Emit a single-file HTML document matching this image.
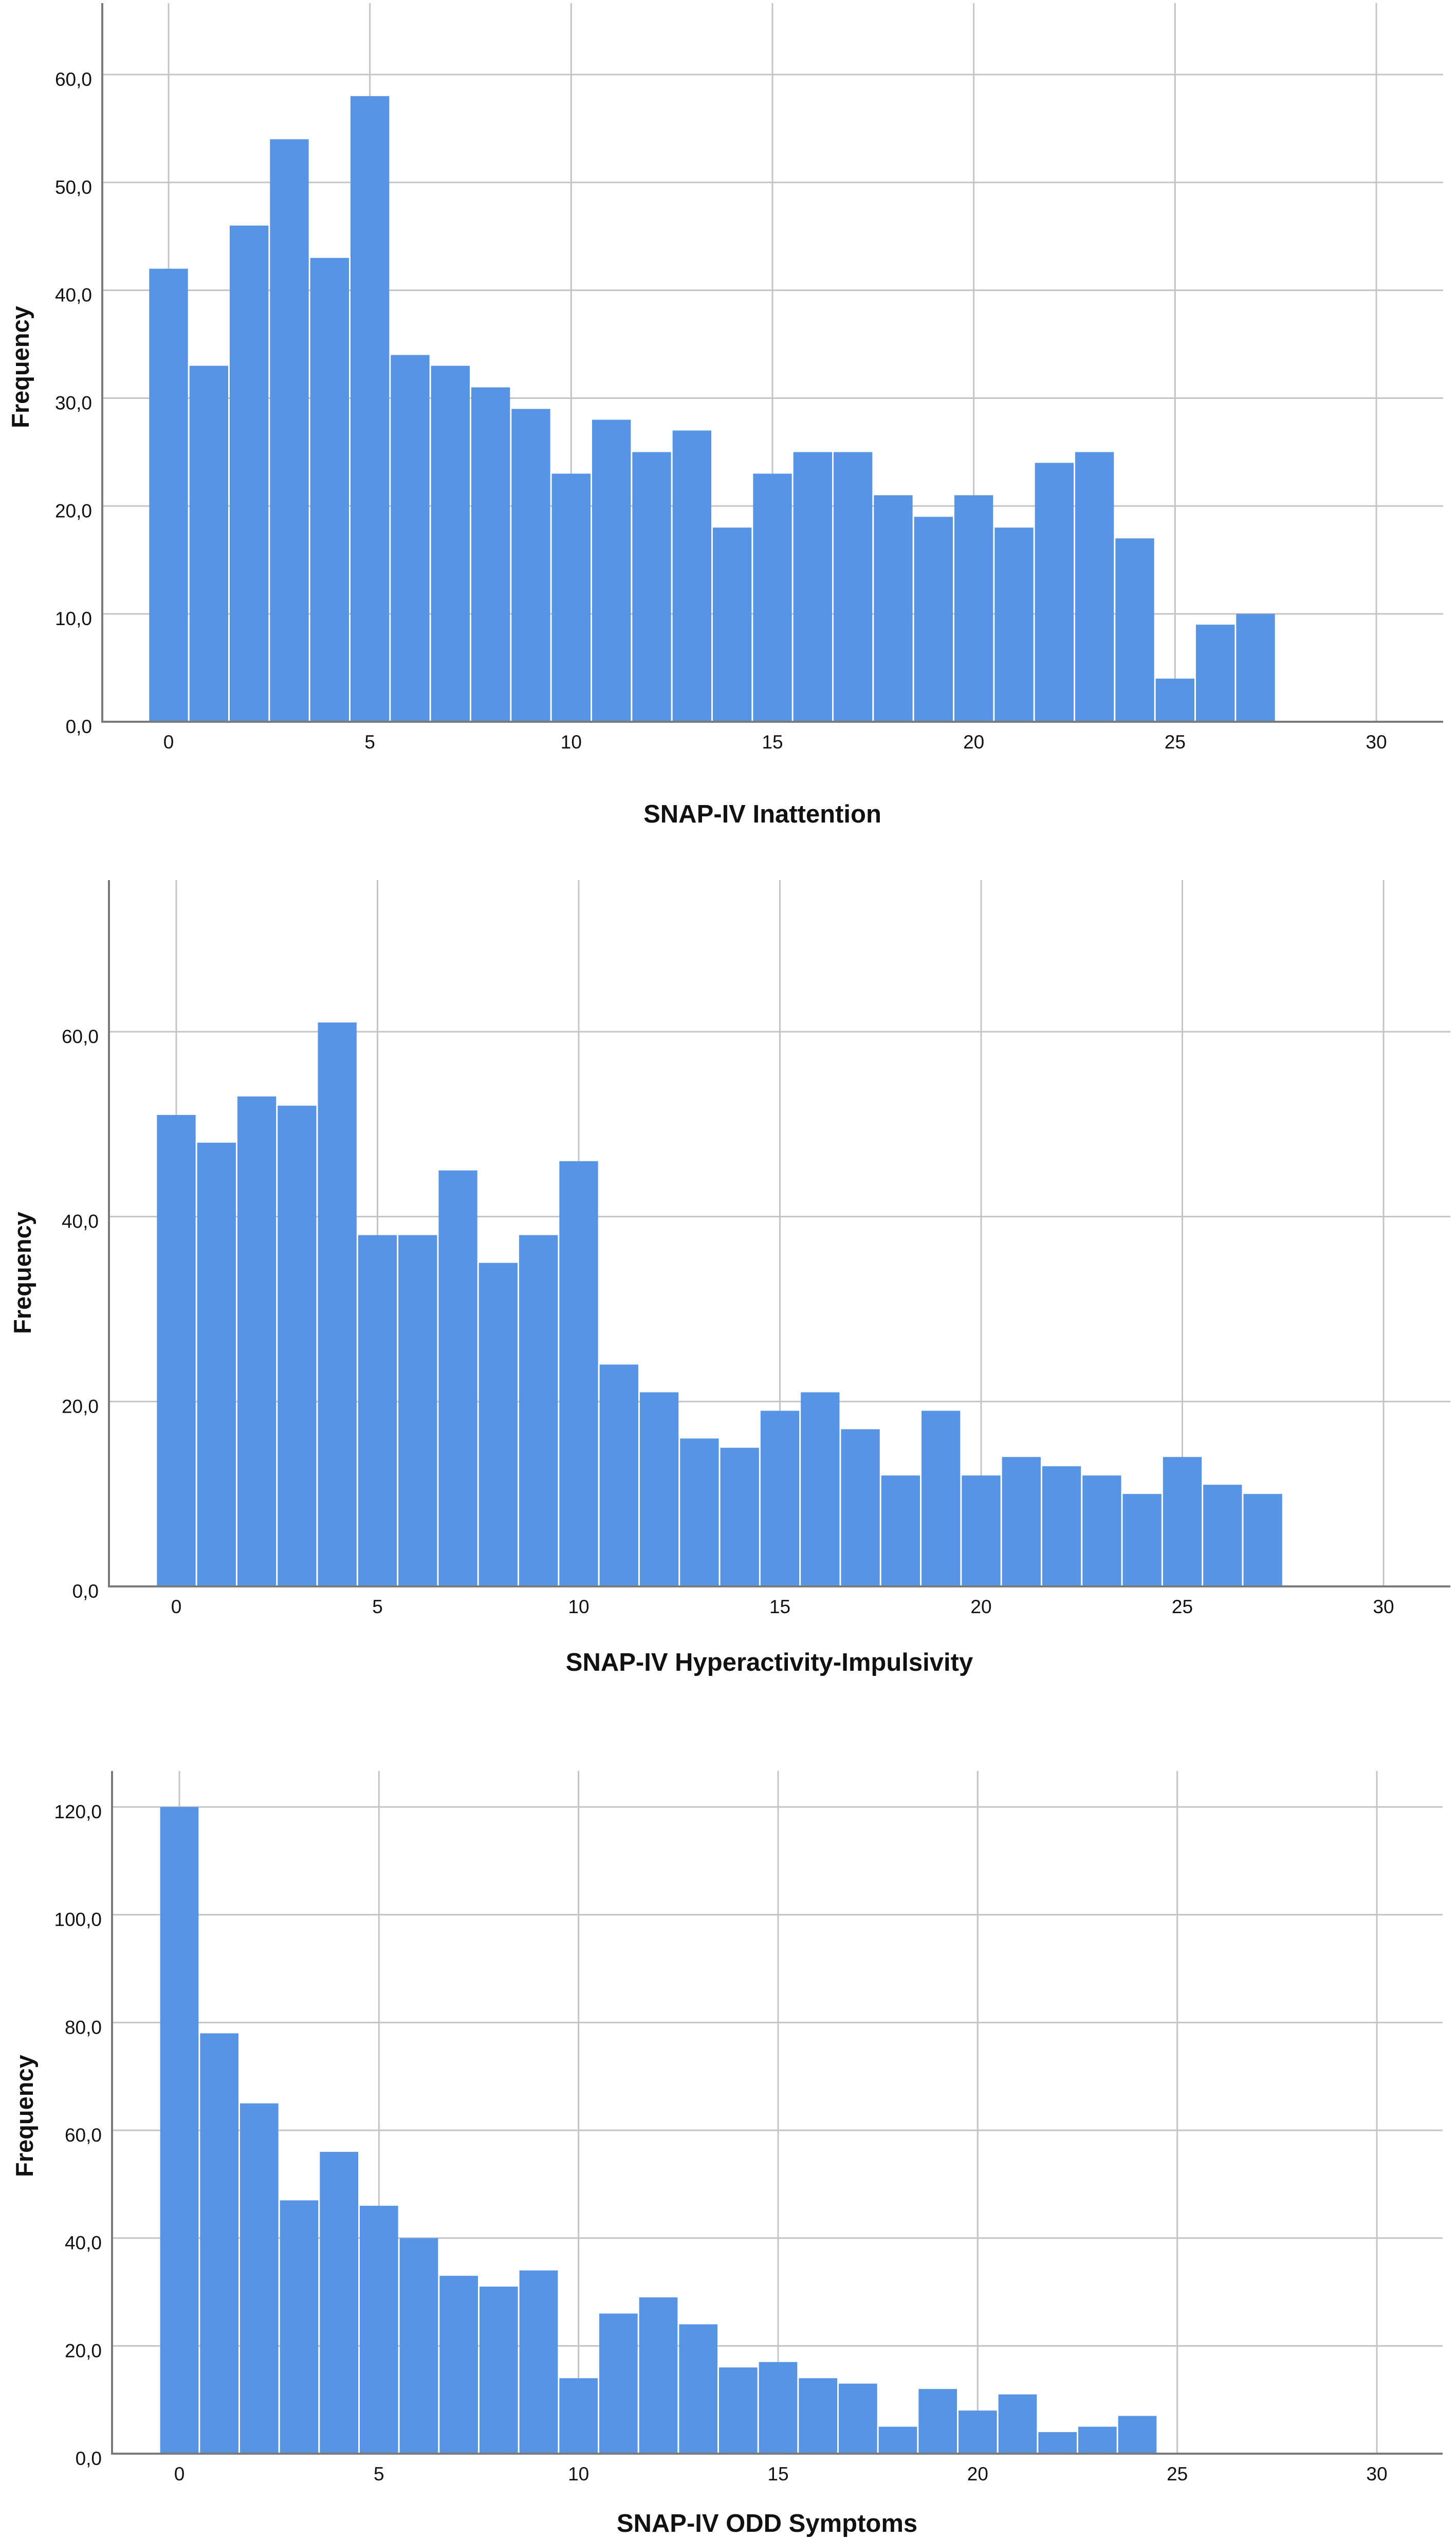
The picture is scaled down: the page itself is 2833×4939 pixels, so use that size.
<!DOCTYPE html>
<html><head><meta charset="utf-8"><style>
html,body{margin:0;padding:0;background:#fff;}
svg{display:block;}
text{font-family:"Liberation Sans",sans-serif;fill:#111;}
</style></head><body>
<svg id="root" width="2833" height="4939" viewBox="0 0 2833 4939" xmlns="http://www.w3.org/2000/svg"></svg>
<script>
const inattentionValues = [42,33,46,54,43,58,34,33,31,29,23,28,25,27,18,23,25,25,21,19,21,18,24,25,17,4,9,10];
const hyperValues = [51,48,53,52,61,38,38,45,35,38,46,24,21,16,15,19,21,17,12,19,12,14,13,12,10,14,11,10];
const oddValues = [120,78,65,47,56,46,40,33,31,34,14,26,29,24,16,17,14,13,5,12,8,11,4,5,7];
const xTicks = [0,5,10,15,20,25,30];
const yTicks1 = [0,10,20,30,40,50,60];
const yTicks2 = [0,20,40,60];
const yTicks3 = [0,20,40,60,80,100,120];
const titles = ["SNAP-IV Inattention","SNAP-IV Hyperactivity-Impulsivity","SNAP-IV ODD Symptoms"];

const NS="http://www.w3.org/2000/svg";
const root=document.getElementById('root');
function mk(tag,attrs,parent){const e=document.createElementNS(NS,tag);for(const k in attrs)e.setAttribute(k,attrs[k]);(parent||root).appendChild(e);return e;}

const layouts=[
 {values:inattentionValues,yTicks:yTicks1,ax:199,top:6,right:2808,base:1404,x0:328,x30:2678,yMax:60,yMaxPx:145,title:1600,fy:714,fx:40},
 {values:hyperValues,yTicks:yTicks2,ax:212,top:1712,right:2822,base:3086,x0:343,x30:2692,yMax:60,yMaxPx:2007,title:3250,fy:2476,fx:44},
 {values:oddValues,yTicks:yTicks3,ax:218,top:3445,right:2807,base:4773,x0:349,x30:2679,yMax:120,yMaxPx:3515,title:4925,fy:4116,fx:48}
];

layouts.forEach((L,ci)=>{
  const g=mk('g',{});
  
  
  const xs=v=>L.x0+(L.x30-L.x0)*v/30;
  const ys=v=>L.base-(L.base-L.yMaxPx)*v/L.yMax;
  const bw=(L.x30-L.x0)/30;
  L.yTicks.forEach(t=>{
    if(t===0)return;
    const ln=mk('line',{x1:L.ax,x2:L.right,y1:ys(t),y2:ys(t),stroke:'#c4c4c4','stroke-width':3},g);
    
    
  });
  xTicks.forEach(t=>{
    const ln=mk('line',{x1:xs(t),x2:xs(t),y1:L.top,y2:L.base,stroke:'#c4c4c4','stroke-width':3},g);
    
    
  });
  L.values.forEach((v,i)=>{
    const r=mk('rect',{x:xs(i)-bw/2+1.5,y:ys(v),width:bw-3,height:L.base-ys(v),fill:'#5794E4'},g);
    
    
  });
  const ya=mk('line',{x1:L.ax,x2:L.ax,y1:L.top,y2:L.base+2,stroke:'#7a7a7a','stroke-width':4},g);
  
  
  const xa=mk('line',{x1:L.ax-2,x2:L.right,y1:L.base,y2:L.base,stroke:'#7a7a7a','stroke-width':4},g);
  
  
  L.yTicks.forEach(t=>{
    const tx=mk('text',{x:L.ax-20,y:ys(t)+22,'text-anchor':'end','font-size':37},g);
    tx.textContent=t.toFixed(1).replace('.',',');
    
    
  });
  xTicks.forEach(t=>{
    const tx=mk('text',{x:xs(t),y:L.base+52,'text-anchor':'middle','font-size':37},g);
    tx.textContent=String(t);
    
    
  });
  const tt=mk('text',{x:(L.ax+L.right)/2-20,y:L.title,'text-anchor':'middle','font-size':49,'font-weight':'bold'},g);
  tt.textContent=titles[ci];
  
  
  const fq=mk('text',{x:0,y:0,'text-anchor':'middle','font-size':47,'font-weight':'bold',transform:'translate('+(L.fx+16)+','+L.fy+') rotate(-90)'},g);
  fq.textContent='Frequency';
  
  
});
</script>
</body></html>
